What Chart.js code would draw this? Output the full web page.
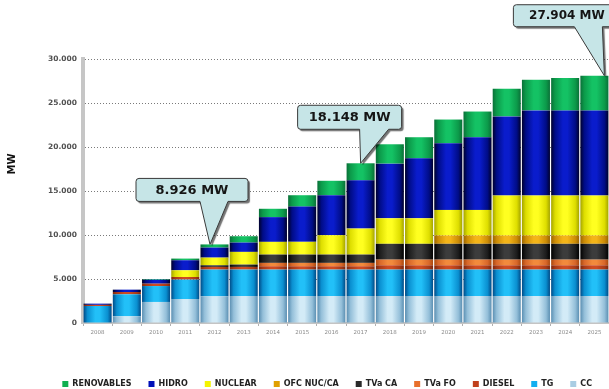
<!DOCTYPE html>
<html><head><meta charset="utf-8">
<script src="https://cdn.jsdelivr.net/npm/chart.js@4/dist/chart.umd.min.js"></script>
<style>html,body{margin:0;padding:0;background:#fff}#wrap{width:609px;height:389px}</style>
</head><body><div id="wrap"><canvas id="c" width="609" height="389"></canvas></div>
<script>
// ---- data (MW) ----
const years = ['2008','2009','2010','2011','2012','2013','2014','2015','2016','2017','2018','2019','2020','2021','2022','2023','2024','2025'];
const seriesNames = ['CC','TG','DIESEL','TVa FO','TVa CA','OFC NUC/CA','NUCLEAR','HIDRO','RENOVABLES'];
const cc        = [0, 760, 2390, 2730, 3030, 3070, 3070, 3070, 3070, 3070, 3070, 3070, 3070, 3070, 3070, 3070, 3070, 3070];
const tg        = [1930, 2500, 1810, 2200, 3040, 3000, 3000, 3000, 3000, 3000, 3000, 3000, 3000, 3000, 3000, 3000, 3000, 3000];
const diesel    = [130, 260, 270, 300, 300, 300, 380, 380, 380, 380, 490, 490, 490, 490, 490, 490, 490, 490];
const tvFO      = [0, 0, 0, 0, 0, 0, 380, 380, 380, 380, 640, 640, 640, 640, 640, 640, 640, 640];
const tvCA      = [0, 0, 0, 0, 190, 270, 950, 950, 950, 950, 1800, 1800, 1800, 1800, 1800, 1800, 1800, 1800];
const ofcNucCa  = [0, 0, 0, 0, 0, 0, 0, 0, 0, 0, 0, 0, 950, 950, 950, 950, 950, 950];
const nuclear   = [0, 0, 0, 760, 870, 1440, 1440, 1440, 2200, 2950, 2900, 2900, 2900, 2900, 4550, 4550, 4550, 4550];
const hidro     = [140, 270, 450, 1140, 1140, 1060, 2810, 4010, 4550, 5490, 6210, 6820, 7580, 8260, 8980, 9660, 9660, 9660];
const renovables= [0, 0, 80, 190, 360, 720, 950, 1290, 1630, 1930, 2200, 2390, 2690, 2920, 3140, 3480, 3670, 3940];
const yTicks    = [0, 5000, 10000, 15000, 20000, 25000, 30000];
const calloutIndex = [4, 9, 17];
const calloutText  = ['8.926 MW', '18.148 MW', '27.904 MW'];

const seriesValues = [cc, tg, diesel, tvFO, tvCA, ofcNucCa, nuclear, hidro, renovables];

// ---- styles ----
const PALETTE = [
  {dark:'#5b8fb2', mid:'#94bfd9', light:'#d3ebf7', legend:'#a9cde3'},
  {dark:'#004a86', mid:'#0a8fd0', light:'#22c0f8', legend:'#12aef0'},
  {dark:'#7e260c', mid:'#a83a16', light:'#cf4c22', legend:'#c0401c'},
  {dark:'#a8480e', mid:'#d8672a', light:'#f28a3c', legend:'#e8702c'},
  {dark:'#000000', mid:'#1c1c1c', light:'#3c3c3c', legend:'#2a2a2a'},
  {dark:'#9a6400', mid:'#cc8c06', light:'#f4b418', legend:'#e0a000'},
  {dark:'#a4a400', mid:'#dede00', light:'#ffff20', legend:'#f4f400'},
  {dark:'#00002a', mid:'#000c86', light:'#0a1ccc', legend:'#0010b8'},
  {dark:'#0a7038', mid:'#0c9a4a', light:'#14c264', legend:'#10b050'}
];
const BAR_PCT = 0.96;

function makeGrad(i) {
  return function(ctx) {
    const chart = ctx.chart, p = PALETTE[i];
    if (ctx.type !== 'data' || !chart.chartArea || !chart.scales.x) return p.legend;
    const xs = chart.scales.x;
    const cx = xs.getPixelForValue(ctx.dataIndex);
    const half = (xs.width / years.length) * BAR_PCT / 2;
    const g = chart.ctx.createLinearGradient(cx - half, 0, cx + half, 0);
    g.addColorStop(0, p.dark);
    g.addColorStop(0.14, p.mid);
    g.addColorStop(0.42, p.light);
    g.addColorStop(0.58, p.light);
    g.addColorStop(0.86, p.mid);
    g.addColorStop(1, p.dark);
    return g;
  };
}

// callout geometry relative to the tip (bar top)
const CALLOUT_GEOM = [
  {dx:-4.5, box:[-74, 38, -66, -43], base:[-10, 18], font:13},
  {dx:0,    box:[-63, 41, -58, -34], base:[-1, 28],  font:13},
  {dx:10,   box:[-91, 16, -71, -49], base:[-30, -2], font:12}
];

const calloutPlugin = {
  id: 'callouts',
  afterDatasetsDraw(chart) {
    const {ctx, scales:{x, y}} = chart;
    calloutIndex.forEach((idx, k) => {
      const g = CALLOUT_GEOM[k];
      const total = seriesValues.reduce((s, arr) => s + arr[idx], 0);
      const tx = x.getPixelForValue(idx) + g.dx;
      const ty = y.getPixelForValue(total);
      const L = tx + g.box[0], R = tx + g.box[1], T = ty + g.box[2], B = ty + g.box[3];
      const bl = tx + g.base[0], br = tx + g.base[1], r = 3;
      ctx.save();
      ctx.beginPath();
      ctx.moveTo(L + r, T);
      ctx.lineTo(R - r, T);
      ctx.quadraticCurveTo(R, T, R, T + r);
      ctx.lineTo(R, B - r);
      ctx.quadraticCurveTo(R, B, R - r, B);
      ctx.lineTo(br, B);
      ctx.lineTo(tx, ty);
      ctx.lineTo(bl, B);
      ctx.lineTo(L + r, B);
      ctx.quadraticCurveTo(L, B, L, B - r);
      ctx.lineTo(L, T + r);
      ctx.quadraticCurveTo(L, T, L + r, T);
      ctx.closePath();
      ctx.shadowColor = 'rgba(0,0,0,0.55)';
      ctx.shadowOffsetX = 2; ctx.shadowOffsetY = 2; ctx.shadowBlur = 1;
      ctx.fillStyle = '#c6e5e7';
      ctx.fill();
      ctx.shadowColor = 'transparent';
      ctx.lineWidth = 1;
      ctx.strokeStyle = '#3a3a3a';
      ctx.stroke();
      ctx.fillStyle = '#151515';
      ctx.font = 'bold ' + g.font + 'px "DejaVu Sans"';
      ctx.textAlign = 'center';
      ctx.textBaseline = 'middle';
      ctx.fillText(calloutText[k], (L + R) / 2, (T + B) / 2 + 0.5);
      ctx.restore();
    });
  }
};

const axisTitlePlugin = {
  id: 'mwTitle',
  afterDraw(chart) {
    const ctx = chart.ctx;
    ctx.save();
    ctx.translate(12, 164);
    ctx.rotate(-Math.PI / 2);
    ctx.font = 'bold 10px "DejaVu Sans"';
    ctx.fillStyle = '#111';
    ctx.textAlign = 'center';
    ctx.textBaseline = 'middle';
    ctx.fillText('MW', 0, 0);
    ctx.restore();
  }
};

const datasets = seriesNames.map((name, i) => ({
  label: name,
  data: seriesValues[i],
  backgroundColor: makeGrad(i),
  borderWidth: 0,
  barPercentage: BAR_PCT,
  categoryPercentage: 1.0,
  stack: 's'
}));

new Chart(document.getElementById('c'), {
  type: 'bar',
  data: { labels: years, datasets },
  plugins: [calloutPlugin, axisTitlePlugin],
  options: {
    responsive: false,
    animation: false,
    devicePixelRatio: 1,
    layout: { padding: { top: 59, right: 0, left: 0, bottom: 0 } },
    scales: {
      x: {
        stacked: true,
        afterFit(s) { s.height = 40; },
        grid: { drawOnChartArea: false, offset: true, tickLength: 3, color: '#b0b0b0' },
        border: { color: '#c4c4c4', width: 2 },
        ticks: { font: { family: 'DejaVu Sans', size: 5.5 }, color: '#8a8a8a', maxRotation: 0, autoSkip: false, padding: 3 }
      },
      y: {
        stacked: true,
        min: 0, max: 30000,
        afterFit(s) { s.width = 83; },
        afterBuildTicks(s) { s.ticks = yTicks.map(v => ({ value: v })); },
        grid: { color: '#7a7a7a', lineWidth: 1, drawTicks: false },
        border: { color: '#c6c6c6', width: 4, dash: [1, 2] },
        ticks: {
          font: { family: 'DejaVu Sans', size: 7.5, weight: 'bold' }, color: '#505050', padding: 6,
          callback: v => v === 0 ? '0' : v.toLocaleString('de-DE')
        }
      }
    },
    plugins: {
      legend: {
        position: 'bottom',
        reverse: true,
        align: 'end',
        maxHeight: 26,
        labels: {
          boxWidth: 6, boxHeight: 6, padding: 17,
          font: { family: 'DejaVu Sans', size: 8, weight: 'bold' },
          color: '#222',
          generateLabels(chart) {
            const items = Chart.defaults.plugins.legend.labels.generateLabels(chart);
            items.forEach(it => { const p = PALETTE[it.datasetIndex]; it.fillStyle = p.legend; it.strokeStyle = p.legend; it.lineWidth = 0; });
            return items;
          }
        }
      },
      tooltip: { enabled: false },
      title: { display: false }
    }
  }
});
</script>
</body></html>
